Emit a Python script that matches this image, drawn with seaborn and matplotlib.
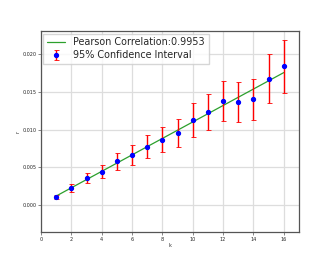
import numpy as np
import pandas as pd
import matplotlib
matplotlib.use("Agg")
import matplotlib.pyplot as plt
import seaborn as sns

# valores
k = [1, 2, 3, 4, 5, 6, 7, 8, 9, 10, 11, 12, 13, 14, 15, 16]
r = [0.0011, 0.00225, 0.00354, 0.00442, 0.0058, 0.00663, 0.00775, 0.00868,
     0.00959, 0.01127, 0.01229, 0.01383, 0.0137, 0.01402, 0.0168, 0.01844]
r_low = [0.00084, 0.00176, 0.00288, 0.00354, 0.00468, 0.00534, 0.00623, 0.00699,
         0.00765, 0.00906, 0.00995, 0.01114, 0.01101, 0.01127, 0.01357, 0.01485]
r_high = [0.00137, 0.00275, 0.0042, 0.00527, 0.00694, 0.00792, 0.00924, 0.0103,
          0.01141, 0.01349, 0.01468, 0.01649, 0.01635, 0.01675, 0.02007, 0.02198]
pearson = 0.9953

df = pd.DataFrame({"k": k, "r": r, "low": r_low, "high": r_high})
slope, intercept = np.polyfit(df["k"], df["r"], 1)
df["fit"] = slope * df["k"] + intercept

sns.set_style("whitegrid", {"axes.edgecolor": "#555555", "grid.color": "#dddddd",
                            "xtick.bottom": True, "ytick.left": True})

fig = plt.figure(figsize=(3.32, 2.66), dpi=100)
ax = fig.add_axes([0.1235, 0.128, 0.777, 0.755])

sns.lineplot(data=df, x="k", y="fit", color="#2ca02c", linewidth=0.9, ax=ax,
             label="Pearson Correlation:%.4f" % pearson)
ax.errorbar(df["k"], df["r"], yerr=[df["r"] - df["low"], df["high"] - df["r"]],
            fmt="o", color="blue", ecolor="red", elinewidth=1, capsize=1.8,
            capthick=0.6, markersize=2.8, label="95% Confidence Interval")

ax.set_xlim(0, 17)
ax.set_ylim(-0.0036, 0.0231)
ax.set_xticks([0, 2, 4, 6, 8, 10, 12, 14, 16])
ax.set_yticks([0.0, 0.005, 0.010, 0.015, 0.020])
ax.set_yticklabels(["0.000", "0.005", "0.010", "0.015", "0.020"])
ax.tick_params(labelsize=3.5, length=2, width=0.5, pad=1.5, color="#555555")
ax.set_xlabel("k", fontsize=3.5, labelpad=1)
ax.set_ylabel("r", fontsize=3.5, labelpad=1)
for s in ax.spines.values():
    s.set_linewidth(0.9)
ax.grid(True, linewidth=0.9)

ax.legend(loc="upper left", fontsize=6.9, frameon=True, handlelength=1.9,
          borderpad=0.4, labelspacing=0.3, fancybox=False, edgecolor="#cccccc",
          borderaxespad=0.25)

fig.savefig("out.png", dpi=100)
